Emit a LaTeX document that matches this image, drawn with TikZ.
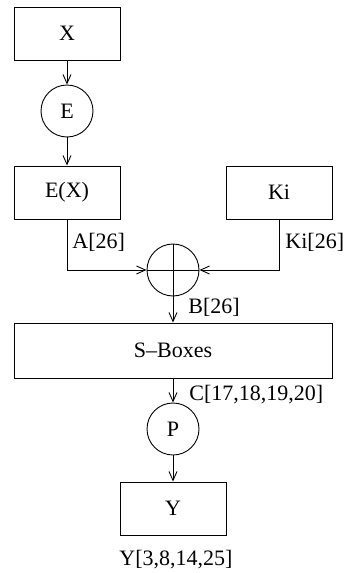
\documentclass[tikz,border=0pt]{standalone}
\usepackage{fontspec}
\setmainfont{Liberation Serif}
\usetikzlibrary{arrows.meta}
\begin{document}
\begin{tikzpicture}[x=1pt,y=-1pt,
  line width=0.9pt,
  font=\fontsize{22}{26}\selectfont,
  box/.style={draw,rectangle,inner sep=0pt,minimum width=106pt,minimum height=53pt},
  op/.style={draw,circle,inner sep=0pt,minimum size=52pt},
  lbl/.style={inner sep=0pt,anchor=west},
  flow/.style={-{Straight Barb[length=9pt,width=8pt,line width=0.9pt]}}]
  \useasboundingbox (0,0) rectangle (344,573);
  % blocks
  \node[box] (X)  at (67,33.5)  {X};
  \node[op]  (E)  at (67,111)   {E};
  \node[box] (EX) at (67,192.5) {E(X)};
  \node[box] (K)  at (279,192.5) {Ki};
  \node[op]  (xor) at (173,270) {};
  \draw (xor.north) -- (xor.south) (xor.west) -- (xor.east);
  \node[box,minimum width=318pt,minimum height=55pt] (S) at (173,350.5) {S--Boxes};
  \node[op]  (P)  at (173,429)  {P};
  \node[box] (Y)  at (173,508.5) {Y};
  % connectors
  \draw[flow] (X) -- (E);
  \draw[flow] (E) -- (EX);
  \draw[flow] (EX.south) |- (xor.west);
  \draw[flow] (K.south) |- (xor.east);
  \draw[flow] (xor) -- (S);
  \draw[flow] (S) -- (P);
  \draw[flow] (P) -- (Y);
  % labels
  \node[lbl] (la) at (72,242)  {A[26]};
  \node[lbl] (lk) at (285,242) {Ki[26]};
  \node[lbl] (lb) at (188,307) {B[26]};
  \node[lbl] (lc) at (189,395) {C[17,18,19,20]};
  \node[inner sep=0pt] (ly) at (176,560) {Y[3,8,14,25]};
\end{tikzpicture}
\end{document}
